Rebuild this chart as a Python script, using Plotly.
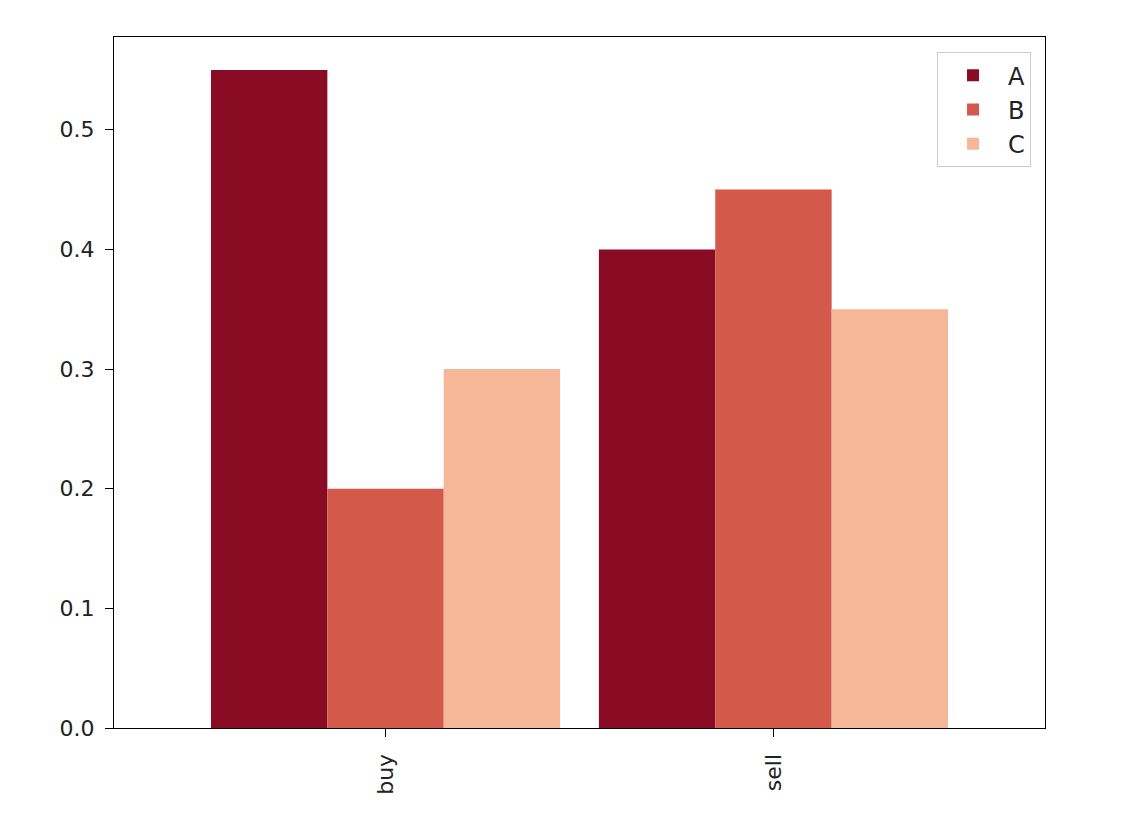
import plotly.graph_objects as go

categories = ["buy", "sell"]
series_names = ["A", "B", "C"]
values_A = [0.55, 0.40]
values_B = [0.20, 0.45]
values_C = [0.30, 0.35]
colors = ["#890b24", "#d35a4a", "#f6b799"]

fig = go.Figure()
for name, vals, col in zip(series_names, [values_A, values_B, values_C], colors):
    fig.add_trace(go.Bar(x=categories, y=vals, name=name, marker=dict(color=col, line=dict(width=0))))

axis_common = dict(
    showline=True, linecolor="black", linewidth=1.2, mirror=True,
    ticks="outside", ticklen=8, tickcolor="black", tickwidth=1.2,
    showgrid=False, zeroline=False,
    tickfont=dict(family="DejaVu Sans", size=22, color="#222"),
)

fig.update_layout(
    width=1136, height=821,
    margin=dict(l=106, r=99, t=29, b=101),
    plot_bgcolor="white", paper_bgcolor="white",
    barmode="group", bargap=0.1, bargroupgap=0,
    font=dict(family="DejaVu Sans", size=22, color="#222"),
    xaxis=dict(range=[-0.7, 1.7], tickangle=-90, ticklabelstandoff=8, **axis_common),
    yaxis=dict(range=[0, 0.5775], tickvals=[0, 0.1, 0.2, 0.3, 0.4, 0.5],
               ticktext=["0.0", "0.1", "0.2", "0.3", "0.4", "0.5"],
               ticklabelstandoff=6, **axis_common),
    legend=dict(x=0.985, y=0.978, xanchor="right", yanchor="top",
                bgcolor="rgba(255,255,255,0.8)", bordercolor="#cccccc", borderwidth=1,
                itemwidth=60,
                font=dict(family="DejaVu Sans", size=24, color="#222")),
)

fig.write_html("out.html")
